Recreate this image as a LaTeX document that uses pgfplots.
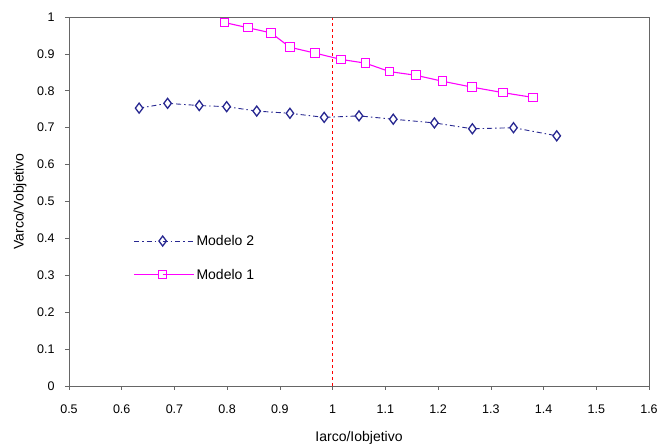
\documentclass[border=0pt]{standalone}
\usepackage{pgfplots}
\pgfplotsset{compat=1.18}
\usepackage{fontspec}
\setmainfont{Liberation Sans}
\definecolor{navyb}{RGB}{40,40,145}
\definecolor{mag}{RGB}{255,0,255}
\begin{document}
\begin{tikzpicture}
\begin{axis}[name=ax,
  scale only axis, width=580pt, height=369pt,
  xmin=0.5, xmax=1.6, ymin=0, ymax=1,
  xtick={0.5,0.6,...,1.6}, ytick={0,0.1,...,1.0},
  xticklabels={0.5,0.6,0.7,0.8,0.9,1,1.1,1.2,1.3,1.4,1.5,1.6},
  yticklabels={0,0.1,0.2,0.3,0.4,0.5,0.6,0.7,0.8,0.9,1},
  tick align=outside, tick pos=left,
  major tick length=4pt,
  axis line style={gray!80!black, line width=0.8pt},
  every tick/.style={gray!80!black, line width=0.6pt},
  tick label style={font=\fontsize{12.5}{14}\selectfont},
  xticklabel style={yshift=-11pt},
  yticklabel style={xshift=-7pt},
  xlabel={Iarco/Iobjetivo}, ylabel={Varco/Vobjetivo},
  label style={font=\fontsize{14}{16}\selectfont},
  xlabel style={at={(axis description cs:0.5,0)}, anchor=center, yshift=-52pt},
  ylabel style={at={(axis description cs:-0.0845,0.5)}, anchor=center},
  legend style={draw=none, fill=none, at={(axis description cs:0.106,0.42)}, anchor=north west,
    font=\fontsize{14}{16}\selectfont, row sep=18pt},
  legend cell align=left,
  legend image code/.code={
    \draw[#1] (0cm,0cm) -- (1.0cm,0cm);
    \draw[#1, only marks] plot coordinates {(1.0cm,0cm)};
    \draw[#1] (1.0cm,0cm) -- (2.1cm,0cm);
  },
  clip=false,
]
\addplot[navyb, dash pattern=on 5pt off 3pt on 1.5pt off 3pt, line width=0.9pt, mark=diamond*, mark size=5pt,
  mark options={solid, fill=white, line width=1.3pt}] coordinates {
(0.633,0.753) (0.687,0.766) (0.747,0.760) (0.799,0.757) (0.856,0.745)
(0.919,0.739) (0.984,0.728) (1.050,0.732) (1.115,0.723) (1.193,0.713)
(1.265,0.697) (1.343,0.700) (1.425,0.678)};
\addlegendentry{Modelo 2}
\addplot[mag, line width=1.1pt, mark=square*, mark size=4.3pt,
  mark options={solid, draw=mag, fill=white, line width=1pt}] coordinates {
(0.795,0.985) (0.839,0.971) (0.883,0.957) (0.919,0.918) (0.967,0.902)
(1.016,0.885) (1.062,0.875) (1.108,0.852) (1.158,0.842) (1.208,0.826)
(1.264,0.810) (1.323,0.795) (1.380,0.782)};
\addlegendentry{Modelo 1}
\addplot[red, dashed, line width=1pt, forget plot] coordinates {(1,0) (1,1)};
\draw[gray!80!black, line width=0.8pt] (rel axis cs:0,1) -- (rel axis cs:1,1) -- (rel axis cs:1,0);
\end{axis}
\pgfresetboundingbox
\path ([shift={(-69pt,-60pt)}]ax.south west) rectangle ([shift={(10pt,17pt)}]ax.north east);
\end{tikzpicture}
\end{document}
